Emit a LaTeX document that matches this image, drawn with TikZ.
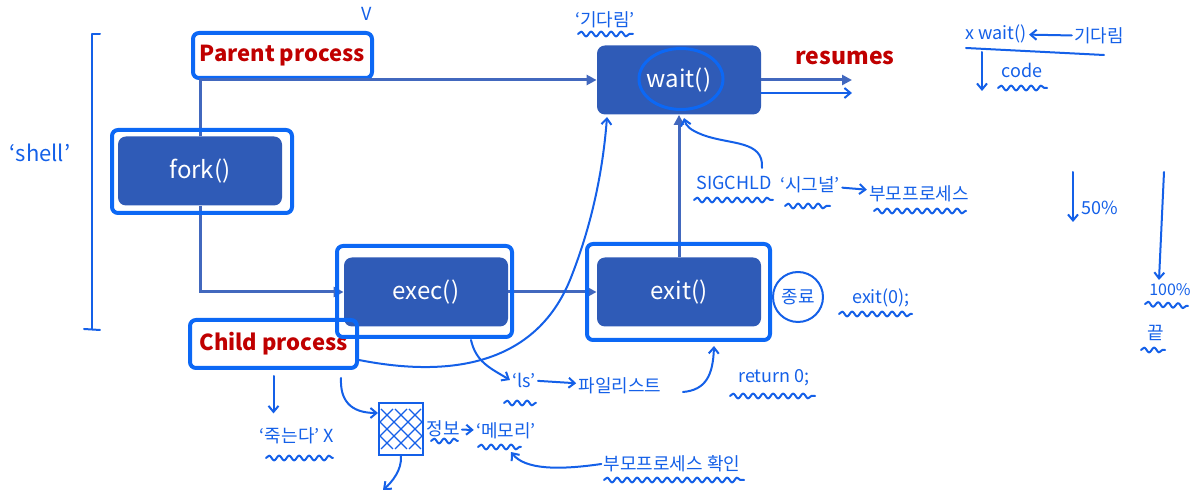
\documentclass[tikz,border=0pt]{standalone}
\usepackage{fontspec}
\setmainfont{Noto Sans CJK KR}
\usepackage{xcolor}
\usetikzlibrary{arrows.meta,positioning,shapes.geometric,decorations.pathmorphing}

\definecolor{boxblue}{RGB}{47,91,183}
\definecolor{lineblue}{RGB}{66,104,190}
\definecolor{markblue}{RGB}{12,104,245}
\definecolor{inkblue}{RGB}{20,96,232}
\definecolor{labelred}{RGB}{192,0,0}

\tikzset{
  callbox/.style={rectangle, fill=boxblue, rounded corners=4pt, text=white, font=\fontsize{12}{14}\selectfont, minimum width=82pt, minimum height=34.5pt},
  markbox/.style={rectangle, draw=markblue, line width=2pt, rounded corners=3pt},
  tag/.style={text=labelred, font=\bfseries\fontsize{11}{13}\selectfont, inner sep=1pt},
  flow/.style={draw=lineblue, line width=1.5pt, -{Triangle[length=5pt,width=5pt]}},
  hand/.style={draw=inkblue, line width=1pt, line cap=round, line join=round},
  handarrow/.style={hand, -{Straight Barb[length=3pt,width=5pt]}},
  wavy/.style={hand, decorate, decoration={snake, amplitude=1.2pt, segment length=5pt}},
  note/.style={text=inkblue, font=\fontsize{9}{10}\selectfont, inner sep=1pt},
  gridbox/.style={draw=inkblue, line width=1pt, minimum width=22pt, minimum height=26pt,
    path picture={\foreach \k in {-14,-7,...,14} {
      \draw[inkblue, line width=0.6pt] ([xshift=\k pt]path picture bounding box.center) ++(-10pt,-10pt) -- ++(20pt,20pt);
      \draw[inkblue, line width=0.6pt] ([xshift=\k pt]path picture bounding box.center) ++(-10pt,10pt) -- ++(20pt,-20pt);}}}
}

\begin{document}
\begin{tikzpicture}[x=0.5pt,y=-0.5pt]
\useasboundingbox (0,0) rectangle (1196,496);

\node (fork) [callbox] at (200,171) {fork()};
\node (exec) [callbox] at (426,292) {exec()};
\node (exit) [callbox] at (679,292) {exit()};
\node (wait) [callbox] at (679,80) {wait()};
\node (parent) [tag, markbox, minimum width=89.5pt, minimum height=22.5pt] at (282.5,55.5) {Parent process};
\node (child) [tag, markbox, minimum width=83.5pt, minimum height=24pt] at (273.5,344) {Child process};
\node (resumes) [tag, font=\bfseries\fontsize{11.5}{13}\selectfont] at (845,58) {resumes};
\coordinate (resumesend) at (852,80);

\draw [flow] (fork.north) |- (wait.west);
\draw [flow] (fork.south) |- (exec.west);
\draw [flow] (exec.east) -- (exit.west);
\draw [flow] (exit.north) -- (wait.south);
\draw [flow] (wait.east) -- (resumesend);

\node (forkmark) [markbox, minimum width=90pt, minimum height=41.5pt] at (202,171.5) {};
\node (execmark) [markbox, minimum width=87.5pt, minimum height=45.5pt] at (424.5,291.5) {};
\node (exitmark) [markbox, minimum width=91.5pt, minimum height=48pt] at (678.5,292) {};
\node (waitmark) [ellipse, draw=markblue, line width=1.5pt, minimum width=42pt, minimum height=30.5pt] at (681,79) {};

\node (check) [note] at (367,14) {V};
\node (shell) [note, font=\fontsize{11}{12}\selectfont] at (40,153) {‘shell’};
\draw [hand] (100,34) -- (92,34) -- (92,329);
\draw [hand] (84,329) -- (100,330);

\node (waitnote) [note] at (605,20) {‘기다림’};
\draw [wavy] (578,34) -- (633,34);
\coordinate (resumes2) at (852,93);
\draw [handarrow] (wait.east |- resumes2) -- (resumes2);

\coordinate (childtip) at (607,117);
\draw [handarrow] ([yshift=-8pt]child.east) .. controls (450,378) and (535,365) .. (570,280) .. controls (592,225) and (603,170) .. (childtip);

\coordinate (sigstart) at (762,168);
\coordinate (sigtip) at (684,118);
\draw [handarrow] (sigstart) .. controls (764,140) and (730,145) .. (703,135) .. controls (690,130) and (686,126) .. (sigtip);
\node (sigchld) [note] at (734,183) {SIGCHLD};
\draw [wavy] (694,200) -- (773,200);
\node (signal) [note] at (810,185) {‘시그널’};
\draw [wavy] (785,206) -- (830,206);
\node (parentnote) [note] at (919,194) {부모프로세스};
\draw [wavy] (874,211) -- (966,211);
\draw [handarrow] (signal) -- (parentnote);

\node (xwait) [note] at (996,34) {x wait()};
\node (waitkr) [note] at (1099,36) {기다림};
\draw [handarrow] (waitkr) -- (xwait);
\draw [hand] (966,48) -- (1104,55);
\coordinate (codetop) at (982,52);
\coordinate (codeend) at (982,91);
\draw [handarrow] (codetop) -- (codeend);
\node (code) [note] at (1022,70) {code};
\draw [wavy] (998,88) -- (1047,88);

\coordinate (halftop) at (1073,172);
\coordinate (halfend) at (1073,222);
\draw [handarrow] (halftop) -- (halfend);
\node (half) [note] at (1100,208) {50\%};
\coordinate (fulltop) at (1164,172);
\coordinate (fullend) at (1159,280);
\draw [handarrow] (fulltop) -- (fullend);
\node (full) [note, font=\fontsize{8}{9}\selectfont] at (1170,290) {100\%};
\draw [wavy] (1145,304) -- (1188,306);
\node (finish) [note] at (1156,333) {끝};
\draw [wavy] (1141,350) -- (1165,350);

\node (quit) [note, circle, draw=inkblue, line width=1pt, minimum size=25pt] at (798,297) {종료};
\node (exitzero) [note] at (881,298) {exit(0);};
\draw [wavy] (839,314) -- (912,314);
\node (retzero) [note] at (774,378) {return 0;};
\draw [wavy] (730,396) -- (815,396);
\coordinate (retstart) at (683,392);
\coordinate (exittip) at (714,346);
\draw [handarrow] (retstart) .. controls (706,390) and (713,375) .. (exittip);

\node (ls) [note] at (524,380) {‘ls’};
\draw [wavy] (504,403) -- (536,403);
\coordinate (execout) at (471,340);
\draw [handarrow] (execout) .. controls (476,362) and (490,368) .. (ls.west);
\node (filelist) [note] at (620,386) {파일리스트};
\draw [handarrow] (ls) -- (filelist);

\node (dies) [note] at (297,436) {‘죽는다’ X};
\draw [wavy] (266,458) -- (333,458);
\draw [handarrow] ([yshift=-3pt]child.south) -- ([yshift=6pt]child.south |- dies.north);

\node (memgrid) [gridbox] at (401,429) {};
\draw [handarrow] ([xshift=-9pt,yshift=-4pt]child.south east) .. controls (340,400) and (350,413) .. ([yshift=8pt]memgrid.west);
\coordinate (memout) at (383,490);
\draw [handarrow] (memgrid.south) .. controls (402,470) and (392,482) .. (memout);
\node (info) [note] at (443,429) {정보};
\draw [wavy] (431,441) -- (458,441);
\node (memory) [note] at (506,431) {‘메모리’};
\draw [wavy] (478,447) -- (521,447);
\draw [handarrow] (info) -- (memory);

\node (checkparent) [note] at (672,464) {부모프로세스 확인};
\draw [wavy] (604,480) -- (744,480);
\coordinate (memtip) at (511,452);
\draw [handarrow] (checkparent.west) .. controls (560,470) and (525,470) .. (memtip);
\end{tikzpicture}
\end{document}
